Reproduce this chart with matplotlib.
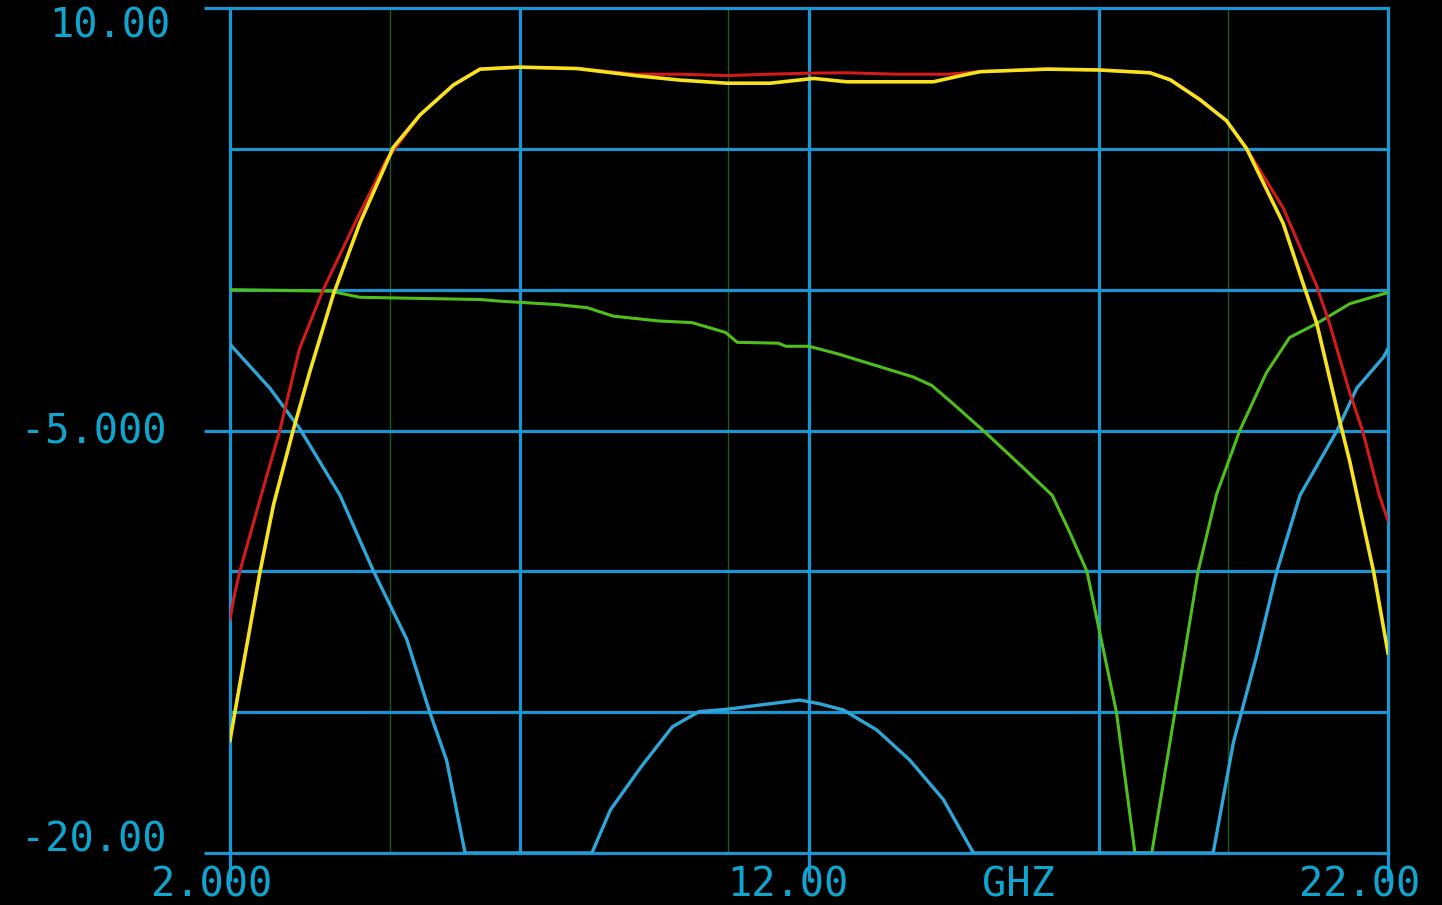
import numpy as np
import matplotlib
matplotlib.use("Agg")
import matplotlib.pyplot as plt

# frequency axis (GHz) and level axis (dB)
x_ticks = [2, 12, 22]
x_grid = [2, 7, 12, 17, 22]
y_grid = [10, 5, 0, -5, -10, -15, -20]
y_ticks = [10, -5, -20]
markers = [4.76, 10.6, 19.24]

# yellow trace
yel_x = [2.0, 2.17, 2.52, 2.75, 3.09, 3.38, 3.78, 4.24, 4.82, 5.28, 5.86, 6.32, 7.0, 8.0, 9.0,
         9.77, 10.58, 11.33, 12.08, 12.65, 14.15, 14.67, 14.96, 16.11, 17.0, 17.89, 18.24, 18.75,
         19.21, 19.56, 20.19, 20.54, 20.77, 21.17, 21.34, 21.75, 22.0]
yel_y = [-16.0, -14.0, -10.0, -7.65, -5.0, -2.9, -0.2, 2.35, 5.05, 6.2, 7.27, 7.83, 7.9, 7.85, 7.6,
         7.44, 7.33, 7.33, 7.5, 7.38, 7.38, 7.62, 7.74, 7.83, 7.8, 7.7, 7.45, 6.75,
         6.0, 5.0, 2.35, 0.18, -1.2, -4.7, -6.1, -10.0, -12.9]

# red trace
red_x = [2.0, 2.08, 2.17, 2.58, 2.86, 3.2, 3.61, 4.19, 4.7, 5.28, 5.86, 6.32, 7.0, 8.0, 9.0, 9.77, 10.58,
         11.33, 12.08, 12.65, 13.5, 14.4, 14.96, 16.11, 17.0, 17.89, 18.24, 18.75, 19.21, 19.56,
         20.19, 20.76, 20.99, 21.33, 21.56, 21.85, 22.0]
red_y = [-11.7, -10.8, -10.0, -7.0, -5.0, -2.1, 0.0, 2.5, 4.6, 6.2, 7.27, 7.83, 7.9, 7.85, 7.65, 7.65, 7.6,
         7.65, 7.69, 7.7, 7.65, 7.65, 7.74, 7.83, 7.8, 7.7, 7.45, 6.75, 6.0, 5.0,
         2.9, 0.18, -1.2, -3.6, -5.0, -7.3, -8.2]

# green trace
grn_x = [2.0, 3.73, 4.24, 6.32, 6.68, 7.65, 8.17, 8.62, 9.4, 9.98, 10.56, 10.76, 11.47, 11.6, 12.0,
         12.5, 13.15, 13.8, 14.12, 14.45, 15.03, 15.74, 16.2, 16.5, 16.8, 17.31, 17.63, 17.92,
         18.32, 18.72, 19.04, 19.44, 19.9, 20.3, 20.77, 21.34, 22.0]
grn_y = [0.0, -0.05, -0.27, -0.35, -0.41, -0.53, -0.64, -0.94, -1.11, -1.17, -1.52, -1.87, -1.9, -2.01, -2.01,
         -2.28, -2.69, -3.1, -3.4, -3.98, -5.04, -6.4, -7.3, -8.6, -10.0, -15.0, -20.0, -20.0,
         -15.0, -10.0, -7.26, -5.0, -2.95, -1.7, -1.2, -0.5, -0.1]

# blue trace
blu_x = [2.0, 2.69, 3.21, 3.9, 4.48, 5.05, 5.45, 5.74, 6.06, 8.25, 8.57, 9.1, 9.64, 10.1, 10.57,
         11.14, 11.84, 12.18, 12.59, 13.17, 13.74, 14.32, 14.84, 18.98, 19.33, 19.47, 19.73, 20.08,
         20.48, 21.12, 21.46, 21.92, 22.0]
blu_y = [-1.94, -3.5, -4.95, -7.3, -10.0, -12.4, -15.0, -16.7, -20.0, -20.0, -18.47, -16.94, -15.52, -14.98, -14.9,
         -14.75, -14.57, -14.7, -14.92, -15.63, -16.7, -18.1, -20.0, -20.0, -16.07, -15.0, -13.0, -10.0,
         -7.3, -5.0, -3.5, -2.4, -2.1]

grid_c = "#1a95d2"
text_c = "#0ea6cf"

W, H = 1442, 905
fig = plt.figure(figsize=(W / 100, H / 100), dpi=100, facecolor="black")
ax = fig.add_axes([230 / W, (H - 853) / H, 1158 / W, 845 / H])
ax.set_facecolor("black")
ax.set_xlim(2, 22)
ax.set_ylim(-20, 10)
for s in ax.spines.values():
    s.set_visible(False)

for xv in x_grid:
    ax.axvline(xv, color=grid_c, lw=2.3, clip_on=False, zorder=1)
for yv in y_grid:
    ax.axhline(yv, color=grid_c, lw=2.3, clip_on=False, zorder=1)
for m in markers:
    ax.axvline(m, color="#1f5a22", lw=1.0, zorder=0.5)

ax.set_xticks(x_ticks)
ax.set_yticks(y_ticks)
ax.set_xticklabels([])
ax.set_yticklabels([])
ax.tick_params(axis="x", length=20, width=2.3, color=grid_c, direction="out")
ax.tick_params(axis="y", length=19, width=2.3, color=grid_c, direction="out")

ax.plot(grn_x, grn_y, color="#4fbf1c", lw=2.2, zorder=3)
ax.plot(blu_x, blu_y, color="#2ea6d8", lw=2.4, zorder=3)
ax.plot(red_x, red_y, color="#d41a1a", lw=2.2, zorder=4)
ax.plot(yel_x, yel_y, color="#f6e21e", lw=2.6, zorder=5)

font = dict(family="DejaVu Sans Mono", color=text_c, fontsize=29)
fig.text(170 / W, 1 - 27 / H, "10.00", ha="right", va="center", **font)
fig.text(166 / W, 1 - 433 / H, "-5.000", ha="right", va="center", **font)
fig.text(166 / W, 1 - 840 / H, "-20.00", ha="right", va="center", **font)
fig.text(212 / W, 1 - 885 / H, "2.000", ha="center", va="center", **font)
fig.text(788 / W, 1 - 885 / H, "12.00", ha="center", va="center", **font)
fig.text(1018 / W, 1 - 885 / H, "GHZ", ha="center", va="center", **font)
fig.text(1360 / W, 1 - 885 / H, "22.00", ha="center", va="center", **font)

fig.savefig("out.png", dpi=100, facecolor="black")
